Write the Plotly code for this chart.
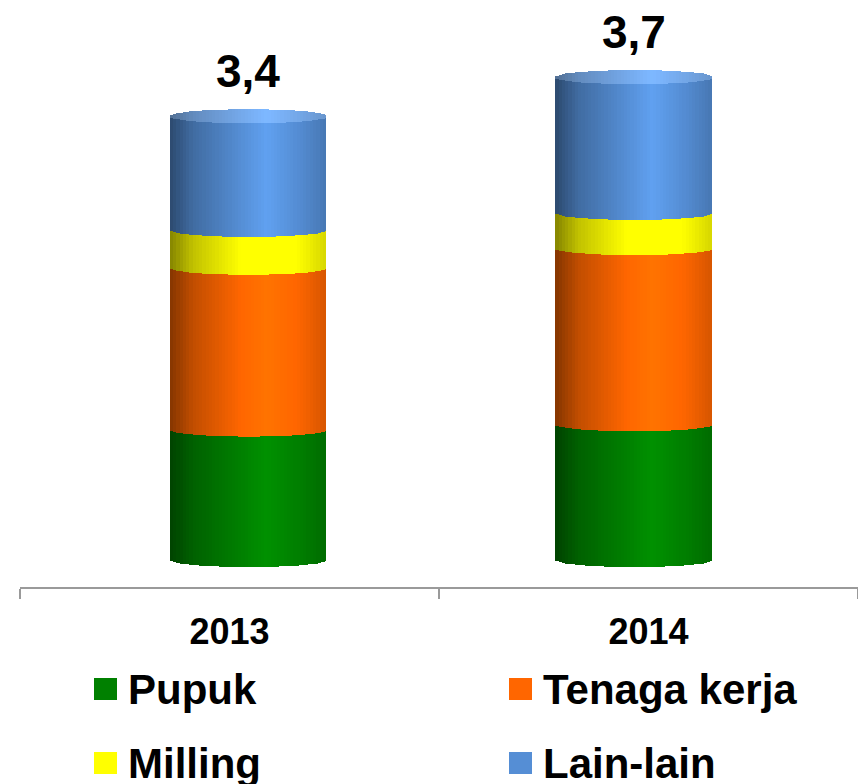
"""
    Production cost per year, stacked by component, drawn as shaded cylinders
"""

##########==========##########==========##########==========##########==========
## HEADER

import numpy as np
import plotly.graph_objects as go

## data
years = ['2013', '2014']
series_names = ['Pupuk', 'Tenaga kerja', 'Milling', 'Lain-lain']
pupuk = [1.00, 1.04]
tenaga_kerja = [1.24, 1.35]
milling = [0.29, 0.27]
lain_lain = [0.87, 1.04]

## styling
params = dict(
    font = 'Liberation Sans, Arial, sans-serif',
    colors = {'Pupuk': (0, 128, 0), 'Tenaga kerja': (255, 102, 0),
              'Milling': (255, 255, 0), 'Lain-lain': (85, 142, 213)},
    n_strips = 48,         # vertical strips used to fake the cylinder shading
    bar_width = 0.405,     # in units of the bar axis
    ellipse = 0.054,       # half height of the cylinder ellipses, in y units
    width = 858, height = 784,
    plot_left = 20, plot_bottom = 587,
)

##########==========##########==========##########==========##########==========
## COMPONENT FUNCTIONS


def shade(rgb, u, lift = 0.0, whiten = 0.0):
    """ colour of a strip at relative position u (0 = left edge, 1 = right edge) """
    f = np.interp(u, [0, 0.15, 0.62, 0.85, 1], [0.52, 0.76, 1.13, 0.97, 0.84]) + lift
    out = []
    for c in rgb:
        v = c * f
        v = v + (255 - v) * whiten
        out.append(int(max(0, min(255, round(v)))))
    return 'rgb({},{},{})'.format(*out)


def px_x(x): return (x - params['plot_left']) / (params['width'] - params['plot_left'])
def px_y(y): return (params['plot_bottom'] - y) / params['plot_bottom']


def draw_segments(values_list):
    """ one bar trace per component, each made of thin strips on both cylinders """
    n, w, e = params['n_strips'], params['bar_width'], params['ellipse']
    u = (np.arange(n) + 0.5) / n
    arc = e * np.sqrt(1 - (2 * u - 1) ** 2)
    cum = np.zeros(len(years))
    traces = []
    for k, (name, vals) in enumerate(zip(series_names, values_list)):
        xs, bases, ys, offs, cols, cds = [], [], [], [], [], []
        for j in range(len(years)):
            for i in range(n):
                bottom = cum[j] - arc[i]
                top = cum[j] + vals[j] - arc[i]
                xs.append(j); bases.append(bottom); ys.append(top - bottom)
                offs.append(-w / 2 + i * w / n)
                cols.append(shade(params['colors'][name], u[i]))
                cds.append(vals[j])
        widths = [w / n * (1.6 if (o + w / 2) < w * (1 - 1.5 / n) else 1.0) for o in offs]
        traces.append(go.Bar(
            x = xs, y = ys, base = bases, offset = offs, width = widths,
            marker = dict(color = cols, line = dict(width = 0)),
            name = name, customdata = cds, xaxis = 'x2', yaxis = 'y',
            hovertemplate = name + ': %{customdata}<extra></extra>', showlegend = False,
        ))
        cum = cum + np.array(vals)

    ## top face of each cylinder
    xs, bases, ys, offs, cols = [], [], [], [], []
    for j in range(len(years)):
        for i in range(n):
            xs.append(j); bases.append(cum[j] - arc[i]); ys.append(2 * arc[i])
            offs.append(-w / 2 + i * w / n)
            cols.append(shade(params['colors'][series_names[-1]], u[i], lift = 0.08, whiten = 0.15))
    widths = [w / n * (1.6 if (o + w / 2) < w * (1 - 1.5 / n) else 1.0) for o in offs]
    traces.append(go.Bar(
        x = xs, y = ys, base = bases, offset = offs, width = widths,
        marker = dict(color = cols, line = dict(width = 0)),
        xaxis = 'x2', yaxis = 'y', hoverinfo = 'skip', showlegend = False,
    ))
    return traces, cum


def draw_legend():
    """ legend drawn by hand so the swatches can be as large as in the original """
    shapes, notes = [], []
    cols_x = [94, 509]
    rows_y = [689, 763]
    for k, name in enumerate(series_names):
        x0 = cols_x[k % 2]; yc = rows_y[k // 2]
        shapes.append(dict(
            type = 'rect', xref = 'paper', yref = 'paper',
            x0 = px_x(x0), x1 = px_x(x0 + 23), y0 = px_y(yc + 11), y1 = px_y(yc - 11),
            fillcolor = 'rgb({},{},{})'.format(*params['colors'][name]), line = dict(width = 0),
        ))
        notes.append(dict(
            xref = 'paper', yref = 'paper', x = px_x(x0 + 32), y = px_y(yc),
            xanchor = 'left', yanchor = 'middle', showarrow = False, text = name,
            font = dict(size = 42, color = 'black', family = params['font'], weight = 'bold'),
        ))
    return shapes, notes

##########==========##########==========##########==========##########==========
## TOP-LEVEL

values_list = [pupuk, tenaga_kerja, milling, lain_lain]
traces, totals = draw_segments(values_list)

fig = go.Figure()
fig.add_trace(go.Scatter(x = years, y = [0, 0], mode = 'none', hoverinfo = 'skip', showlegend = False))
fig.add_traces(traces)

## total labels above the cylinders
labels = []
for j, t in enumerate(totals):
    labels.append(dict(
        x = j, y = t, xref = 'x2', yref = 'y', yanchor = 'bottom', yshift = 17,
        text = '{:.1f}'.format(t).replace('.', ','), showarrow = False,
        font = dict(size = 46, color = 'black', family = params['font'], weight = 'bold'),
    ))

leg_shapes, leg_notes = draw_legend()

px_per_unit = 130.5
fig.update_layout(
    width = params['width'], height = params['height'],
    margin = dict(l = params['plot_left'], r = 0, t = 0, b = params['height'] - params['plot_bottom']),
    plot_bgcolor = 'white', paper_bgcolor = 'white',
    barmode = 'overlay', bargap = 0,
    font = dict(family = params['font'], color = 'black'),
    xaxis = dict(
        type = 'category', categoryarray = years, range = [-0.5, 1.5], tickson = 'boundaries',
        showline = True, linecolor = '#9a9a9a', linewidth = 2,
        ticks = 'outside', ticklen = 10, tickcolor = '#9a9a9a', tickwidth = 2,
        showgrid = False, zeroline = False, ticklabelstandoff = 12,
        tickfont = dict(size = 36, color = 'black', family = params['font'], weight = 'bold'),
    ),
    xaxis2 = dict(overlaying = 'x', range = [-0.591, 1.582], visible = False),
    yaxis = dict(range = [-27 / px_per_unit, 560 / px_per_unit], visible = False),
    shapes = leg_shapes,
    annotations = labels + leg_notes,
    showlegend = False,
)

fig.write_html("out.html", config = {'displayModeBar': False},
               post_script = "document.body.style.margin='0';")
